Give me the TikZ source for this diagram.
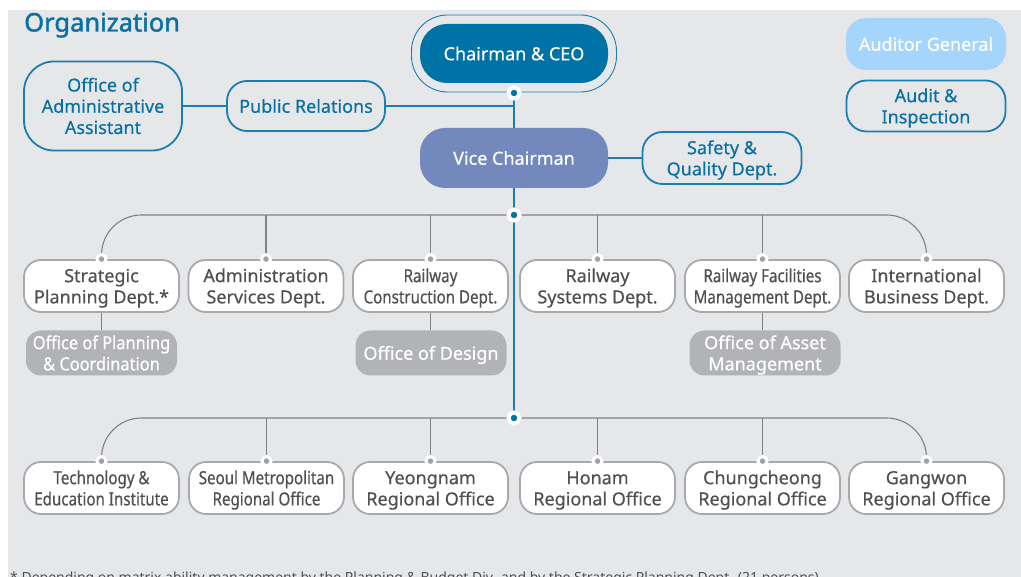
\documentclass[tikz,border=0pt]{standalone}
\usepackage{fontspec}
\setmainfont{Noto Sans}[FakeBold=0.45]
\newfontfamily\condfont{Noto Sans}[FakeStretch=0.84, FakeBold=0.45]
\newfontfamily\semicond{Noto Sans}[FakeStretch=0.91, FakeBold=0.45]
\newfontfamily\titlefont{Noto Sans}[FakeBold=1.6]
\newfontfamily\notefont{Noto Sans}
\definecolor{bg}{HTML}{E6E7E9}
\definecolor{kblue}{HTML}{0073A6}
\definecolor{oblue}{HTML}{1B7DB0}
\definecolor{tblue}{HTML}{0A70A3}
\definecolor{vice}{HTML}{7389BD}
\definecolor{audit}{HTML}{A6D5FC}
\definecolor{dborder}{HTML}{A8A9AC}
\definecolor{dtext}{HTML}{505052}
\definecolor{sgray}{HTML}{B2B3B6}
\definecolor{cgray}{HTML}{808184}
\definecolor{dotgray}{HTML}{A0A1A4}
% centred lines of a box label, set a little below the geometric centre
\newcommand\ml[1]{\raisebox{-2.5pt}[\height][\depth]{\begin{tabular}{@{}c@{}}#1\end{tabular}}}
\begin{document}
\begin{tikzpicture}[x=1pt,y=-1pt,
  txt/.style={font=\fontsize{18}{21.2}\selectfont},
  outbox/.style={txt, draw=oblue, line width=1.8, text=tblue, inner sep=0pt},
  fillbox/.style={txt, text=white, inner sep=0pt},
  dept/.style={txt, draw=dborder, line width=1.8, fill=white, text=dtext, rounded corners=17,
    minimum width=155, minimum height=52, inner sep=0pt},
  subbox/.style={txt, fill=sgray, text=white, rounded corners=15,
    minimum width=151, minimum height=45, inner sep=0pt},
  blueline/.style={draw=oblue, line width=1.3},
  branch/.style={draw=cgray, line width=1.1},
  hubdot/.style={circle, fill=kblue, draw=white, line width=4, minimum size=11, inner sep=0pt},
  pindot/.style={circle, fill=dotgray, draw=white, line width=3, minimum size=9, inner sep=0pt}]
\useasboundingbox (0,0) rectangle (1021,577);
\fill[white] (0,0) rectangle (1021,577);
\fill[bg] (8,10) rectangle (1021,577);

% title
\node[anchor=base west, inner sep=0pt, text=tblue, font=\titlefont\fontsize{25.5}{28}\selectfont] (title) at (24,31.5) {Organization};

% top management
\node[draw=oblue, line width=0.9, rounded corners=36, minimum width=205, minimum height=77, inner sep=0pt] (ceoring) at (514,53.5) {};
\node[fillbox, fill=kblue, rounded corners=27, minimum width=188, minimum height=59] (ceo) at (514,53.5) {\ml{Chairman \& CEO}};
\node[outbox, rounded corners=30, minimum width=158, minimum height=89] (oaa) at (103,106) {\ml{Office of\\Administrative\\Assistant}};
\node[outbox, rounded corners=20, minimum width=158, minimum height=50] (pr) at (306,106) {\ml{Public Relations}};
\node[fillbox, fill=audit, rounded corners=20, minimum width=160, minimum height=52] (ag) at (926,44) {\ml{Auditor General}};
\node[outbox, rounded corners=20, minimum width=159, minimum height=51] (ai) at (926,106) {\ml{Audit \&\\Inspection}};
\node[outbox, rounded corners=20, minimum width=159, minimum height=52] (sq) at (722,158) {\ml{Safety \&\\Quality Dept.}};

% hubs on the main spine
\coordinate (c0) at (514,93);
\coordinate (c1) at (514,215);
\coordinate (c2) at (514,418);

% spine and side links
\draw[blueline] (c0) -- (c2);
\draw[blueline] (oaa.east) -- (pr.west);
\draw[blueline] (pr.east) -- (pr.east -| c0);

\node[fillbox, fill=vice, rounded corners=25, minimum width=188, minimum height=60] (vc) at (514,158) {\ml{Vice Chairman}};
\draw[blueline] (vc.east) -- (sq.west);

% departments
\node[dept] (d1) at (101.5,286) {\ml{Strategic\\Planning Dept.*}};
\node[dept] (d2) at (266,286) {\ml{Administration\\Services Dept.}};
\node[dept] (d3) at (430.5,286) {\ml{\condfont Railway\\\condfont Construction Dept.}};
\node[dept] (d4) at (597.5,286) {\ml{Railway\\Systems Dept.}};
\node[dept] (d5) at (762.5,286) {\ml{\condfont Railway Facilities\\\condfont Management Dept.}};
\node[dept] (d6) at (926.5,286) {\ml{International\\Business Dept.}};

\node[subbox] (s1) at (101.5,353) {\ml{\semicond Office of Planning\\\semicond\& Coordination}};
\node[subbox] (s3) at (431,353) {\ml{Office of Design}};
\node[subbox] (s5) at (765,353) {\ml{Office of Asset\\Management}};

\draw[branch] (d1.south) -- (s1.north);
\draw[branch] (d3.south) -- (d3.south |- s3.north);
\draw[branch] (d5.south) -- (d5.south |- s5.north);

% regional offices
\node[dept] (r1) at (101.5,488) {\ml{\condfont Technology \&\\\condfont Education Institute}};
\node[dept] (r2) at (266.5,488) {\ml{\condfont Seoul Metropolitan\\\condfont Regional Office}};
\node[dept] (r3) at (430.5,488) {\ml{Yeongnam\\Regional Office}};
\node[dept] (r4) at (597.5,488) {\ml{Honam\\Regional Office}};
\node[dept] (r5) at (762.5,488) {\ml{Chungcheong\\Regional Office}};
\node[dept] (r6) at (926.5,488) {\ml{Gangwon\\Regional Office}};

% branch lines
\draw[branch, rounded corners=40] (c1) -| (d1.north);
\draw[branch, rounded corners=40] (c1) -| (d6.north);
\foreach \n in {d2,d3,d4,d5}{\draw[branch] (\n.north) -- (\n.north |- c1);}
\draw[branch, rounded corners=40] (c2) -| (r1.north);
\draw[branch, rounded corners=40] (c2) -| (r6.north);
\foreach \n in {r2,r3,r4,r5}{\draw[branch] (\n.north) -- (\n.north |- c2);}

% connection dots
\node[hubdot] (h0) at (c0) {};
\node[hubdot] (h1) at (c1) {};
\node[hubdot] (h2) at (c2) {};
\foreach \n in {d1,d2,d3,d4,d5,d6,r1,r2,r3,r4,r5,r6}{\node[pindot] at (\n.north) {};}

% footnote
\node[anchor=base west, inner sep=0pt, text=dtext, font=\notefont\fontsize{14}{16}\selectfont] (note) at (10,582)
  {* Depending on matrix ability management by the Planning \& Budget Div. and by the Strategic Planning Dept. (21 persons)};
\end{tikzpicture}
\end{document}
